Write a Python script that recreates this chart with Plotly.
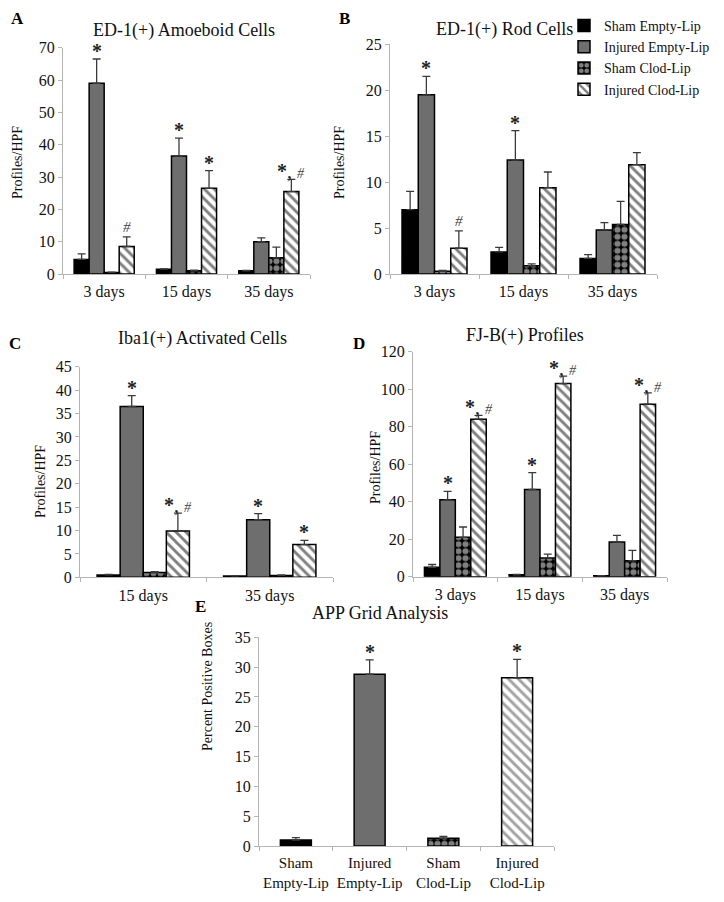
import plotly.graph_objects as go

OFF = 8                     # page body margin
W, H = 724 - OFF, 902 - OFF
FONT = "Liberation Serif"

series = ["Sham Empty-Lip", "Injured Empty-Lip", "Sham Clod-Lip", "Injured Clod-Lip"]

# Panel A: ED-1(+) Amoeboid Cells
A_cats = ["3 days", "15 days", "35 days"]
A_vals = [[4.5, 1.5, 1.0], [59.0, 36.5, 10.0], [0.5, 1.0, 5.0], [8.5, 26.5, 25.5]]
A_errs = [[6.2, 1.6, 1.1], [66.5, 42.0, 11.2], [0.6, 1.2, 8.3], [11.5, 32.0, 29.3]]
# Panel B: ED-1(+) Rod Cells
B_cats = ["3 days", "15 days", "35 days"]
B_vals = [[7.0, 2.4, 1.7], [19.5, 12.4, 4.8], [0.3, 0.9, 5.4], [2.8, 9.4, 11.9]]
B_errs = [[9.0, 2.9, 2.1], [21.5, 15.6, 5.6], [0.4, 1.1, 7.9], [4.7, 11.1, 13.2]]
# Panel C: Iba1(+) Activated Cells
C_cats = ["15 days", "35 days"]
C_vals = [[0.5, 0.3], [36.5, 12.3], [1.0, 0.4], [9.9, 7.0]]
C_errs = [[0.6, 0.35], [38.8, 13.6], [1.2, 0.5], [13.7, 7.9]]
# Panel D: FJ-B(+) Profiles
D_cats = ["3 days", "15 days", "35 days"]
D_vals = [[5.0, 1.0, 0.5], [41.0, 46.5, 18.5], [21.0, 10.0, 8.5], [84.0, 103.0, 92.0]]
D_errs = [[6.5, 1.2, 0.6], [45.5, 55.5, 22.0], [26.5, 12.0, 14.0], [86.0, 107.0, 98.0]]
# Panel E: APP Grid Analysis
E_cats = ["Sham Empty-Lip", "Injured Empty-Lip", "Sham Clod-Lip", "Injured Clod-Lip"]
E_vals = [1.0, 28.8, 1.3, 28.2]
E_errs = [1.4, 31.2, 1.6, 31.3]

# significance marks: (category index, series index, text)
A_marks = [(0, 1, "*"), (0, 3, "#"), (1, 1, "*"), (1, 3, "*"), (2, 3, "*,#")]
B_marks = [(0, 1, "*"), (0, 3, "#"), (1, 1, "*")]
C_marks = [(0, 1, "*"), (0, 3, "*,#"), (1, 1, "*"), (1, 3, "*")]
D_marks = [(0, 1, "*"), (0, 3, "*,#"), (1, 1, "*"), (1, 3, "*,#"), (2, 3, "*,#")]
E_marks = [(1, "*"), (3, "*")]

# styles
FILL = ["black", "#6e6e6e", "black", "white"]
PAT = ["", "", ".", "\\"]
PAT_FG = ["black", "black", "white", "black"]
PAT_BG = ["black", "#6e6e6e", "black", "white"]
PAT_SOL = [0.3, 0.3, 0.6, 0.42]

def px(x):
    return (x - OFF) / W

def py(y):
    return 1 - (y - OFF) / H

def xd(a, b):
    return [px(a), px(b)]

def yd(top, bottom):
    return [py(bottom), py(top)]

panels = [
    dict(key="A", cats=A_cats, vals=A_vals, errs=A_errs, marks=A_marks, ymax=70, dt=10,
         xdom=xd(63, 310), ydom=yd(47.7, 274), title="ED-1(+) Amoeboid Cells",
         tpos=(184, 31), ytitle="Profiles/HPF", ytpos=(18, 163), letter=(17, 19)),
    dict(key="B", cats=B_cats, vals=B_vals, errs=B_errs, marks=B_marks, ymax=25, dt=5,
         xdom=xd(390, 657), ydom=yd(44.3, 274), title="ED-1(+) Rod Cells",
         tpos=(505, 29), ytitle="Profiles/HPF", ytpos=(340, 163), letter=(344, 19)),
    dict(key="C", cats=C_cats, vals=C_vals, errs=C_errs, marks=C_marks, ymax=45, dt=5,
         xdom=xd(80, 333), ydom=yd(366.7, 577.3), title="Iba1(+) Activated Cells",
         tpos=(203, 338), ytitle="Profiles/HPF", ytpos=(40, 482), letter=(15, 343)),
    dict(key="D", cats=D_cats, vals=D_vals, errs=D_errs, marks=D_marks, ymax=120, dt=20,
         xdom=xd(413, 667), ydom=yd(351.7, 576.7), title="FJ-B(+) Profiles",
         tpos=(525, 335), ytitle="Profiles/HPF", ytpos=(375, 468), letter=(359, 343)),
]

fig = go.Figure()
annotations = []
GAP = 0.27
BW = (1 - GAP) / 4
AXC = "#b4b4b4"
TXT = "#111111"
STAR_SHIFT = -5

def axis_common():
    return dict(showline=True, linecolor=AXC, linewidth=1, ticks="outside", ticklen=4,
                tickcolor=AXC, showgrid=False, zeroline=False, automargin=False,
                tickfont=dict(family=FONT, size=16, color=TXT))

def star_text(t):
    out = []
    for p in t.split(","):
        if p == "*":
            out.append("<b>*</b>")
        else:
            out.append("<span style='font-size:14px;color:#444'><i>#</i></span>")
    return ", ".join(out)

for idx, p in enumerate(panels):
    n = idx + 1
    xa = "x" if n == 1 else f"x{n}"
    ya = "y" if n == 1 else f"y{n}"
    sfx = "" if n == 1 else str(n)
    for s in range(4):
        fig.add_trace(go.Bar(
            x=list(range(len(p["cats"]))), y=p["vals"][s], name=series[s],
            xaxis=xa, yaxis=ya, width=BW, offset=-(1 - GAP) / 2 + s * BW,
            marker=dict(color=FILL[s], line=dict(color="black", width=1.5),
                        pattern=dict(shape=PAT[s], fgcolor=PAT_FG[s], bgcolor=PAT_BG[s],
                                     size=7, solidity=PAT_SOL[s])),
            error_y=dict(type="data", symmetric=False,
                         array=[e - v for e, v in zip(p["errs"][s], p["vals"][s])],
                         arrayminus=[0] * len(p["cats"]), color="#3a3a3a", thickness=1.3, width=4),
            showlegend=(n == 1),
        ))
    fig.layout[f"xaxis{sfx}"] = dict(
        domain=p["xdom"], anchor=ya, range=[-0.5, len(p["cats"]) - 0.5],
        tickmode="array", tickvals=list(range(len(p["cats"]))), ticktext=p["cats"],
        **axis_common())
    fig.layout[f"xaxis{sfx}"].update(
        ticks="", tickangle=0, ticklabelstandoff=3,
        minor=dict(tickmode="array", tickvals=[i - 0.5 for i in range(len(p["cats"]) + 1)],
                   ticks="outside", ticklen=4, tickcolor=AXC))
    fig.layout[f"yaxis{sfx}"] = dict(
        domain=p["ydom"], anchor=xa, range=[0, p["ymax"]], dtick=p["dt"], **axis_common())
    for (c, s, t) in p["marks"]:
        annotations.append(dict(
            x=c - (1 - GAP) / 2 + s * BW + BW / 2, y=p["errs"][s][c], xref=xa, yref=ya,
            text=star_text(t) if t != "#" else "<span style='color:#444'><i>#</i></span>",
            showarrow=False, yanchor="bottom", yshift=STAR_SHIFT if t != "#" else 0,
            font=dict(family=FONT, size=20 if t != "#" else 15, color="#222")))
    annotations.append(dict(x=px(p["tpos"][0]), y=py(p["tpos"][1]), xref="paper", yref="paper",
                            text=p["title"], showarrow=False, xanchor="center", yanchor="middle",
                            font=dict(family=FONT, size=18, color=TXT)))
    annotations.append(dict(x=px(p["ytpos"][0]), y=py(p["ytpos"][1]), xref="paper", yref="paper",
                            text=p["ytitle"], textangle=-90, showarrow=False, xanchor="center",
                            yanchor="middle", font=dict(family=FONT, size=14, color=TXT)))
    annotations.append(dict(x=px(p["letter"][0]), y=py(p["letter"][1]), xref="paper", yref="paper",
                            text=f"<b>{p['key']}</b>", showarrow=False, xanchor="center",
                            yanchor="middle", font=dict(family=FONT, size=17, color="black")))

# Panel E
EBW = 0.42
fig.add_trace(go.Bar(
    x=list(range(4)), y=E_vals, xaxis="x5", yaxis="y5", width=EBW, offset=-EBW / 2,
    marker=dict(color=FILL, line=dict(color="black", width=1.5),
                pattern=dict(shape=PAT, fgcolor=PAT_FG, bgcolor=PAT_BG, size=7, solidity=PAT_SOL)),
    error_y=dict(type="data", symmetric=False, array=[e - v for e, v in zip(E_errs, E_vals)],
                 arrayminus=[0] * 4, color="#3a3a3a", thickness=1.3, width=4),
    showlegend=False,
))
fig.layout["xaxis5"] = dict(domain=xd(259, 554), anchor="y5", range=[-0.5, 3.5], tickmode="array",
                            tickvals=list(range(4)), ticktext=[c.replace(" ", "<br>", 1) for c in E_cats],
                            **axis_common())
fig.layout["xaxis5"].update(ticks="", tickangle=0, ticklabelstandoff=3,
                            tickfont=dict(family=FONT, size=15, color=TXT),
                            minor=dict(tickmode="array", tickvals=[i - 0.5 for i in range(5)],
                                       ticks="outside", ticklen=4, tickcolor=AXC))
fig.layout["yaxis5"] = dict(domain=yd(637.3, 846), anchor="x5", range=[0, 35], dtick=5, **axis_common())
for (c, t) in E_marks:
    annotations.append(dict(x=c, y=E_errs[c], xref="x5", yref="y5", text=star_text(t), showarrow=False,
                            yanchor="bottom", yshift=STAR_SHIFT, font=dict(family=FONT, size=20, color="#222")))
annotations.append(dict(x=px(380), y=py(625), xref="paper", yref="paper", text="APP Grid Analysis",
                        showarrow=False, font=dict(family=FONT, size=18, color=TXT)))
annotations.append(dict(x=px(198), y=py(753), xref="paper", yref="paper", text="Percent Positive Boxes",
                        textangle=-90, showarrow=False, font=dict(family=FONT, size=14, color=TXT)))
annotations.append(dict(x=px(193), y=py(618), xref="paper", yref="paper", text="<b>E</b>",
                        showarrow=False, font=dict(family=FONT, size=17, color="black")))

fig.update_layout(
    width=W, height=H, margin=dict(l=0, r=0, t=0, b=0, autoexpand=False),
    paper_bgcolor="white", plot_bgcolor="white",
    barmode="overlay", annotations=annotations,
    legend=dict(x=px(564), y=py(10), xanchor="left", yanchor="top", itemwidth=30,
                font=dict(family=FONT, size=14, color=TXT), tracegroupgap=0,
                bgcolor="rgba(0,0,0,0)"),
    font=dict(family=FONT),
)

fig.write_html("out.html")
